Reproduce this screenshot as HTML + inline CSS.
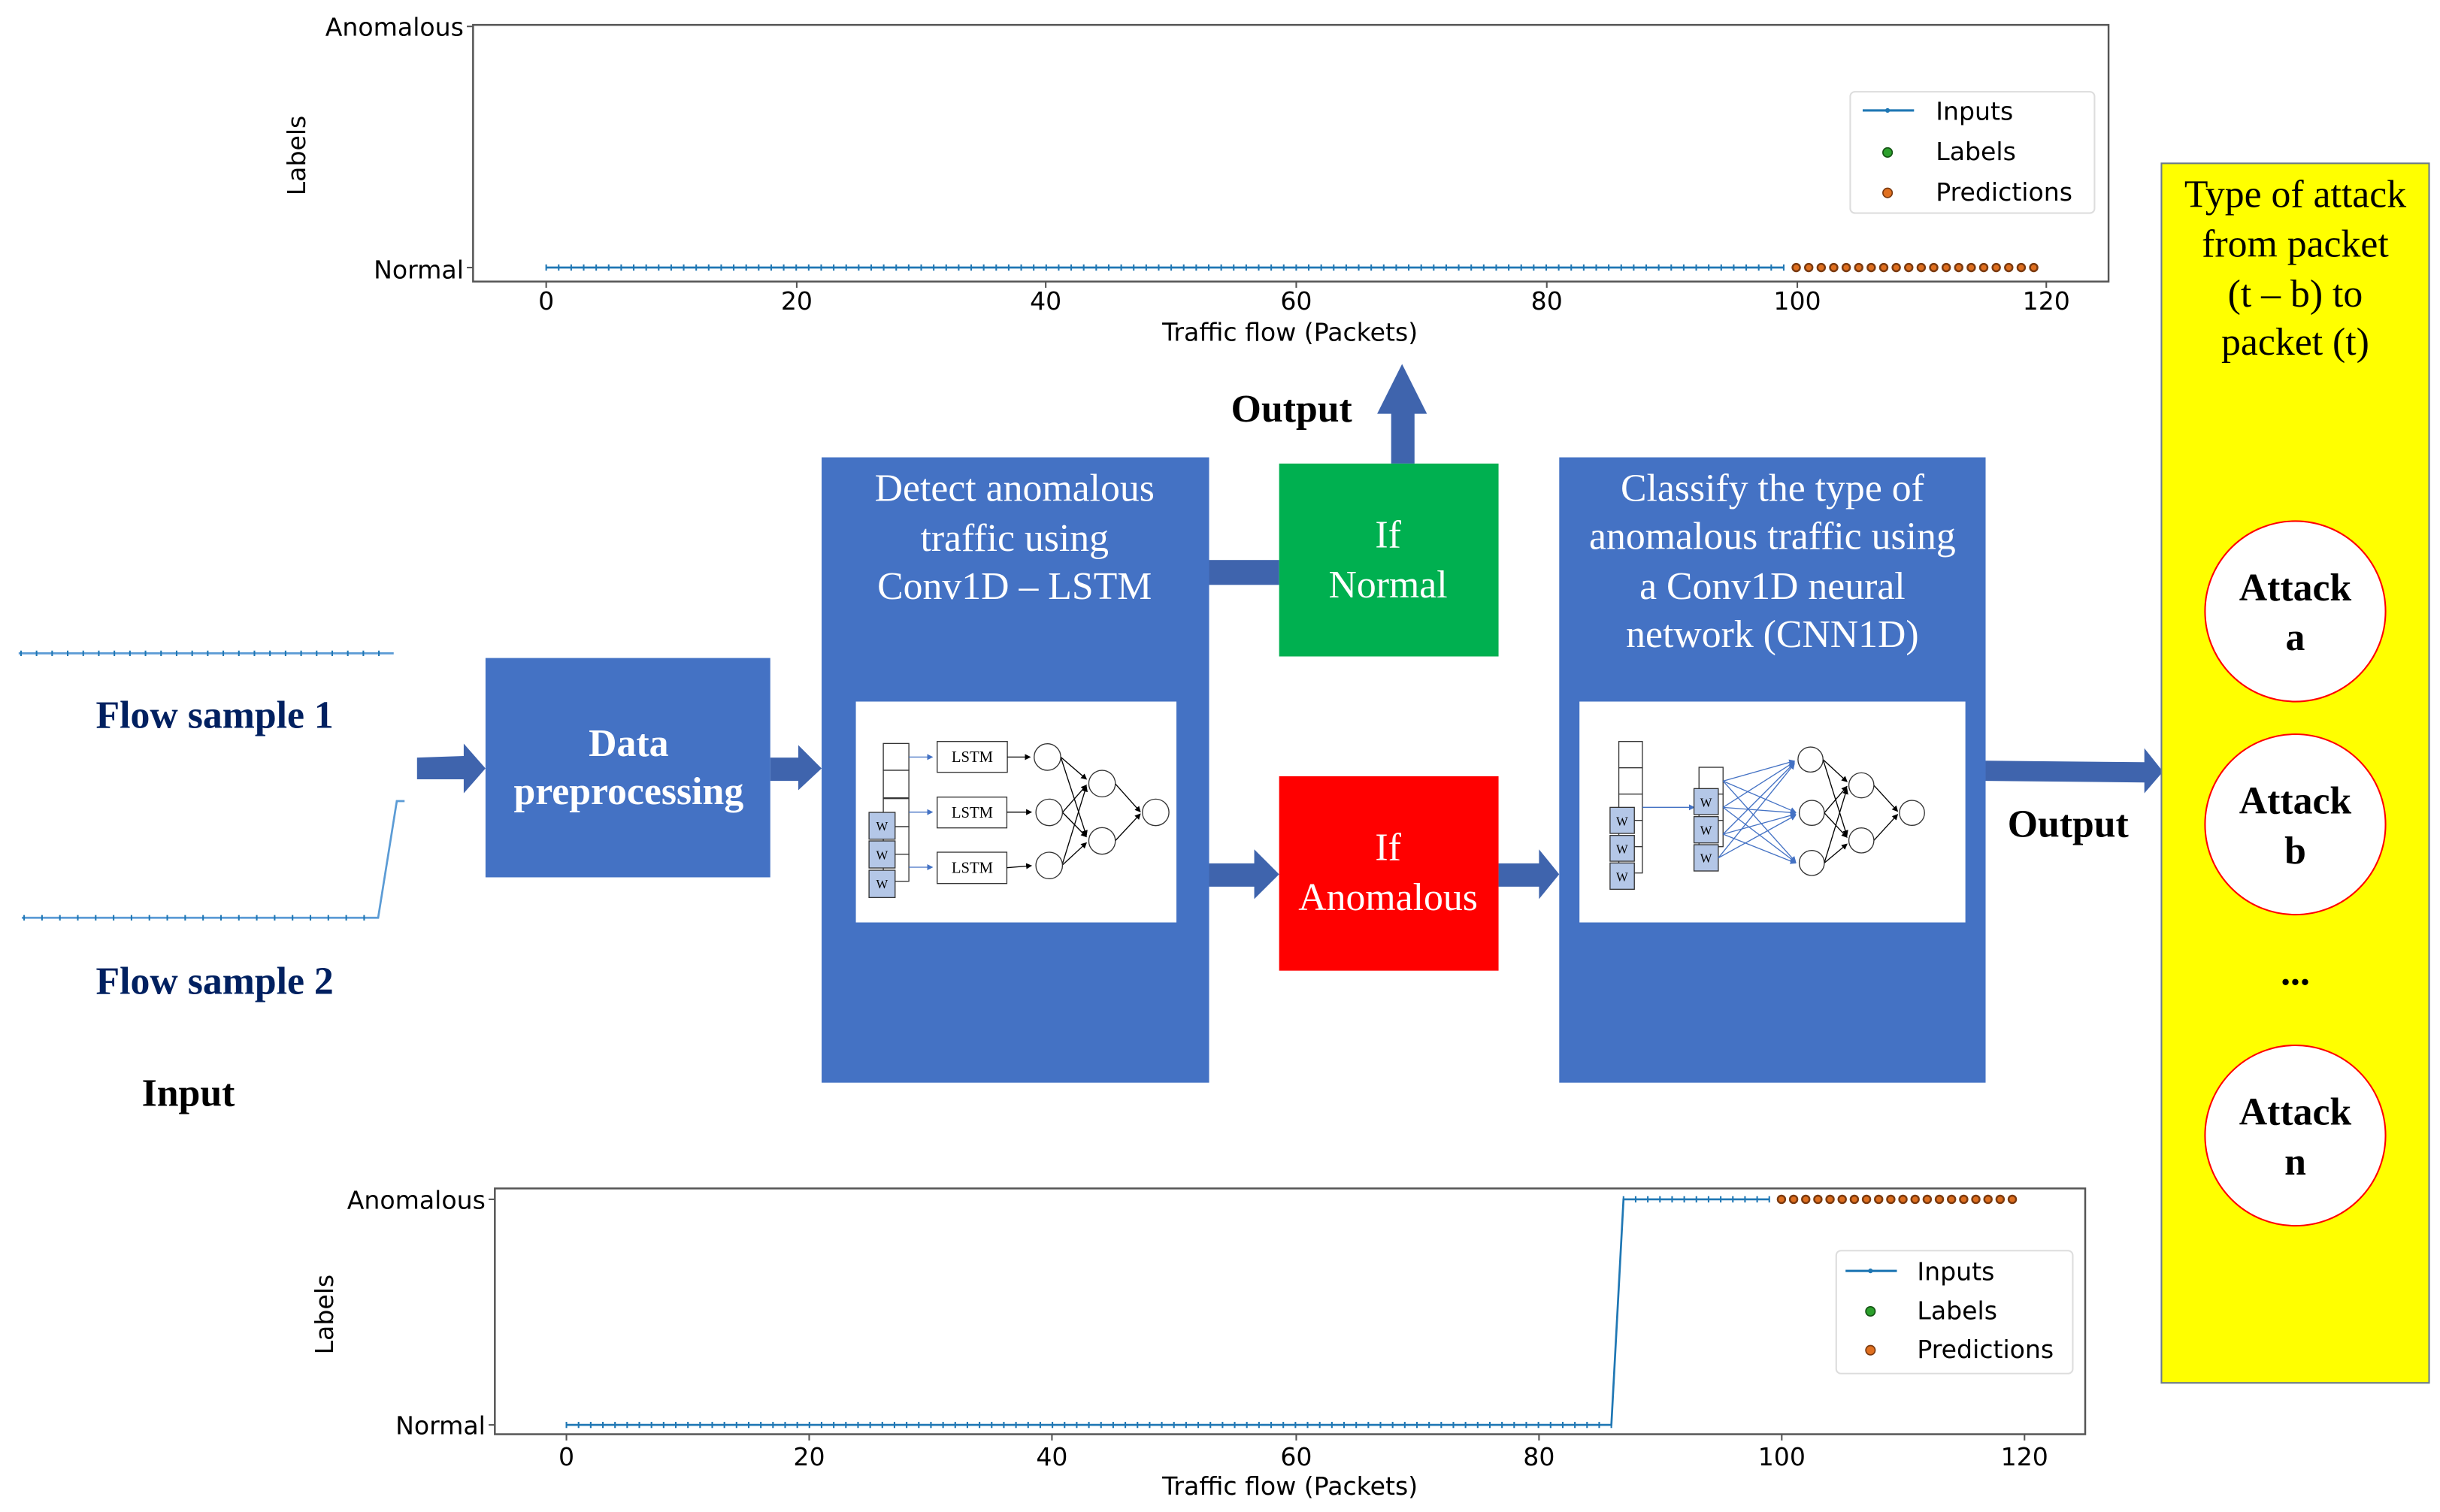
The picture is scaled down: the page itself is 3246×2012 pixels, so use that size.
<!DOCTYPE html>
<html><head><meta charset="utf-8"><style>html,body{margin:0;padding:0;background:#fff}svg{display:block}</style></head>
<body>
<svg width="3246" height="2012" viewBox="0 0 1568 972" preserveAspectRatio="none" xmlns="http://www.w3.org/2000/svg">
<defs>
<marker id="ab" markerWidth="6" markerHeight="6" refX="5" refY="3" orient="auto"><path d="M0,0 L6,3 L0,6 z" fill="#000"/></marker>
<marker id="ablu" markerWidth="6" markerHeight="6" refX="5" refY="3" orient="auto"><path d="M0,0 L6,3 L0,6 z" fill="#4472c4"/></marker>
</defs>
<rect width="1568" height="972" fill="#fff"/>

<!-- TOP CHART -->
<g font-family="'DejaVu Sans',sans-serif" font-size="16" fill="#000">
<rect x="304" y="16" width="1051" height="165" fill="none" stroke="#555" stroke-width="1.2"/>
<text x="298" y="23" text-anchor="end">Anomalous</text>
<text x="298" y="179" text-anchor="end">Normal</text>
<text transform="translate(196,100) rotate(-90)" text-anchor="middle">Labels</text>
<g text-anchor="middle">
<text x="351" y="199">0</text><text x="512" y="199">20</text><text x="672" y="199">40</text><text x="833" y="199">60</text><text x="994" y="199">80</text><text x="1155" y="199">100</text><text x="1315" y="199">120</text>
<text x="829" y="219">Traffic flow (Packets)</text>
</g>
<g stroke="#555" stroke-width="1"><line x1="351" y1="181" x2="351" y2="185"/><line x1="512" y1="181" x2="512" y2="185"/><line x1="672" y1="181" x2="672" y2="185"/><line x1="833" y1="181" x2="833" y2="185"/><line x1="994" y1="181" x2="994" y2="185"/><line x1="1155" y1="181" x2="1155" y2="185"/><line x1="1315" y1="181" x2="1315" y2="185"/><line x1="300" y1="17" x2="304" y2="17"/><line x1="300" y1="172" x2="304" y2="172"/></g>
<line x1="351" y1="172" x2="1146.3" y2="172" stroke="#1f77b4" stroke-width="1.3"/>
<line x1="350.5" y1="172" x2="1147" y2="172" stroke="#1f77b4" stroke-width="4" stroke-dasharray="1 7.033"/>
<line x1="1154.3" y1="172" x2="1307.5" y2="172" stroke="#7a3a10" stroke-width="6" stroke-linecap="round" stroke-dasharray="0 8.033"/>
<line x1="1154.3" y1="172" x2="1307.5" y2="172" stroke="#e07020" stroke-width="3.6" stroke-linecap="round" stroke-dasharray="0 8.033"/>
<rect x="1189" y="59" width="157" height="78" rx="3" fill="#fff" stroke="#ddd"/>
<line x1="1197" y1="71" x2="1230" y2="71" stroke="#1f77b4" stroke-width="1.5"/><circle cx="1213" cy="71" r="1.5" fill="#1f77b4"/>
<circle cx="1213" cy="98" r="3" fill="#2ca02c" stroke="#145214" stroke-width=".8"/>
<circle cx="1213" cy="124" r="3" fill="#e07020" stroke="#7a3a10" stroke-width=".8"/>
<text x="1244" y="77">Inputs</text><text x="1244" y="103">Labels</text><text x="1244" y="129">Predictions</text>
</g>

<!-- BOTTOM CHART -->
<g font-family="'DejaVu Sans',sans-serif" font-size="16" fill="#000">
<rect x="318" y="764" width="1022" height="158" fill="none" stroke="#555" stroke-width="1.2"/>
<text x="312" y="777" text-anchor="end">Anomalous</text>
<text x="312" y="922" text-anchor="end">Normal</text>
<text transform="translate(214,845) rotate(-90)" text-anchor="middle">Labels</text>
<g text-anchor="middle">
<text x="364" y="942">0</text><text x="520" y="942">20</text><text x="676" y="942">40</text><text x="833" y="942">60</text><text x="989" y="942">80</text><text x="1145" y="942">100</text><text x="1301" y="942">120</text>
<text x="829" y="961">Traffic flow (Packets)</text>
</g>
<g stroke="#555" stroke-width="1"><line x1="364" y1="922" x2="364" y2="926"/><line x1="520" y1="922" x2="520" y2="926"/><line x1="676" y1="922" x2="676" y2="926"/><line x1="833" y1="922" x2="833" y2="926"/><line x1="989" y1="922" x2="989" y2="926"/><line x1="1145" y1="922" x2="1145" y2="926"/><line x1="1301" y1="922" x2="1301" y2="926"/><line x1="314" y1="771" x2="318" y2="771"/><line x1="314" y1="916" x2="318" y2="916"/></g>
<polyline points="364,916 1035.5,916 1043.3,771 1137,771" fill="none" stroke="#1f77b4" stroke-width="1.3"/>
<line x1="363.5" y1="916" x2="1036" y2="916" stroke="#1f77b4" stroke-width="4" stroke-dasharray="1 6.808"/>
<line x1="1042.8" y1="771" x2="1138" y2="771" stroke="#1f77b4" stroke-width="4" stroke-dasharray="1 6.808"/>
<line x1="1144.8" y1="771" x2="1293.5" y2="771" stroke="#7a3a10" stroke-width="6" stroke-linecap="round" stroke-dasharray="0 7.808"/>
<line x1="1144.8" y1="771" x2="1293.5" y2="771" stroke="#e07020" stroke-width="3.6" stroke-linecap="round" stroke-dasharray="0 7.808"/>
<rect x="1180" y="804" width="152" height="79" rx="3" fill="#fff" stroke="#ddd"/>
<line x1="1186" y1="817" x2="1219" y2="817" stroke="#1f77b4" stroke-width="1.5"/><circle cx="1202" cy="817" r="1.5" fill="#1f77b4"/>
<circle cx="1202" cy="843" r="3" fill="#2ca02c" stroke="#145214" stroke-width=".8"/>
<circle cx="1202" cy="868" r="3" fill="#e07020" stroke="#7a3a10" stroke-width=".8"/>
<text x="1232" y="823">Inputs</text><text x="1232" y="848">Labels</text><text x="1232" y="873">Predictions</text>
</g>

<!-- flow sample lines -->
<line x1="12" y1="420" x2="253" y2="420" stroke="#5b9bd5" stroke-width="1.3"/>
<line x1="13" y1="420" x2="253" y2="420" stroke="#1f77b4" stroke-width="3.5" stroke-dasharray="1 9"/>
<polyline points="14,590 243,590 255,515 260,515" fill="none" stroke="#5b9bd5" stroke-width="1.3"/>
<line x1="15" y1="590" x2="243" y2="590" stroke="#1f77b4" stroke-width="3.5" stroke-dasharray="1 10.5"/>

<g font-family="'Liberation Serif',serif" font-weight="bold" font-size="25" text-anchor="middle">
<text x="138" y="468" fill="#002060">Flow sample 1</text>
<text x="138" y="639" fill="#002060">Flow sample 2</text>
<text x="121" y="711" fill="#000">Input</text>
<text x="830" y="271" fill="#000">Output</text>
<text x="1329" y="538" fill="#000">Output</text>
</g>

<!-- block arrows -->
<g fill="#3f64ad">
<path d="M268,487 L298,486 L298,478 L312,494 L298,510 L298,501 L268,501 z"/>
<path d="M495,487 L513,487 L513,479 L528,494 L513,508 L513,502 L495,502 z"/>
<path d="M777,555 L806,555 L806,546 L822,562 L806,578 L806,570 L777,570 z"/>
<path d="M963,555 L989,555 L989,546 L1002,562 L989,578 L989,570 L963,570 z"/>
<path d="M1276,489 L1378,490 L1378,481 L1390,496 L1378,510 L1378,503 L1276,502 z"/>
<rect x="777" y="360" width="45" height="16"/>
<path d="M894,298 L894,266 L885,266 L901,234 L917,266 L909,266 L909,298 z"/>
</g>

<!-- boxes -->
<rect x="312" y="423" width="183" height="141" fill="#4472c4"/>
<rect x="528" y="294" width="249" height="402" fill="#4472c4"/>
<rect x="1002" y="294" width="274" height="402" fill="#4472c4"/>
<rect x="822" y="298" width="141" height="124" fill="#00b050"/>
<rect x="822" y="499" width="141" height="125" fill="#ff0000"/>
<rect x="1389" y="105" width="172" height="784" fill="#ffff00" stroke="#6a7a8a" stroke-width="1"/>

<g font-family="'Liberation Serif',serif" font-size="25" fill="#fff" text-anchor="middle">
<text x="404" y="486" font-weight="bold">Data</text>
<text x="404" y="517" font-weight="bold">preprocessing</text>
<text x="652" y="322">Detect anomalous</text>
<text x="652" y="354">traffic using</text>
<text x="652" y="385">Conv1D – LSTM</text>
<text x="1139" y="322">Classify the type of</text>
<text x="1139" y="353">anomalous traffic using</text>
<text x="1139" y="385">a Conv1D neural</text>
<text x="1139" y="416">network (CNN1D)</text>
<text x="892" y="352">If</text>
<text x="892" y="384">Normal</text>
<text x="892" y="553">If</text>
<text x="892" y="585">Anomalous</text>
</g>
<g font-family="'Liberation Serif',serif" font-size="25" fill="#000" text-anchor="middle">
<text x="1475" y="133">Type of attack</text>
<text x="1475" y="165">from packet</text>
<text x="1475" y="197">(t – b) to</text>
<text x="1475" y="228">packet (t)</text>
</g>
<g fill="#fff" stroke="#ff0000" stroke-width="1">
<ellipse cx="1475" cy="393" rx="58" ry="58"/>
<ellipse cx="1475" cy="530" rx="58" ry="58"/>
<ellipse cx="1475" cy="730" rx="58" ry="58"/>
</g>
<g font-family="'Liberation Serif',serif" font-size="25" font-weight="bold" fill="#000" text-anchor="middle">
<text x="1475" y="386">Attack</text><text x="1475" y="418">a</text>
<text x="1475" y="523">Attack</text><text x="1475" y="555">b</text>
<text x="1475" y="633">...</text>
<text x="1475" y="723">Attack</text><text x="1475" y="755">n</text>
</g>

<!-- inner panels -->
<rect x="550" y="451" width="206" height="142" fill="#fff"/>
<rect x="1015" y="451" width="248" height="142" fill="#fff"/>

<!-- LSTM diagram -->
<g transform="translate(545.9,449.3) scale(0.16102)" stroke="#333" stroke-width="4" font-family="'Liberation Serif',serif">
<g fill="#fff">
<rect x="135" y="178" width="102" height="107"/><rect x="135" y="285" width="102" height="110"/><rect x="135" y="398" width="102" height="112"/><rect x="135" y="510" width="102" height="110"/><rect x="135" y="620" width="102" height="108"/>
</g>
<g fill="#b4c7e7"><rect x="78" y="453" width="104" height="107"/><rect x="78" y="567" width="104" height="108"/><rect x="78" y="684" width="104" height="109"/></g>
<g font-size="50" fill="#000" stroke="none" text-anchor="middle"><text x="130" y="525">W</text><text x="130" y="640">W</text><text x="130" y="756">W</text></g>
<g stroke="#4472c4" stroke-width="4" marker-end="url(#ablu)"><line x1="237" y1="232" x2="330" y2="232"/><line x1="237" y1="452" x2="330" y2="452"/><line x1="237" y1="672" x2="330" y2="672"/></g>
<g fill="#fff"><rect x="350" y="170" width="280" height="123"/><rect x="350" y="392" width="278" height="123"/><rect x="350" y="612" width="278" height="125"/></g>
<g font-size="62" fill="#000" stroke="none" text-anchor="middle"><text x="490" y="252">LSTM</text><text x="490" y="474">LSTM</text><text x="490" y="694">LSTM</text></g>
<g stroke="#000" marker-end="url(#ab)"><line x1="630" y1="232" x2="720" y2="232"/><line x1="628" y1="452" x2="725" y2="452"/><line x1="628" y1="674" x2="725" y2="666"/>
<line x1="843" y1="232" x2="945" y2="320"/><line x1="843" y1="232" x2="945" y2="545"/><line x1="850" y1="453" x2="945" y2="345"/><line x1="850" y1="453" x2="945" y2="550"/><line x1="848" y1="665" x2="945" y2="350"/><line x1="848" y1="665" x2="945" y2="575"/>
<line x1="1060" y1="338" x2="1160" y2="450"/><line x1="1060" y1="567" x2="1160" y2="460"/></g>
<g fill="#fff"><circle cx="790" cy="232" r="53"/><circle cx="797" cy="453" r="53"/><circle cx="797" cy="665" r="53"/><circle cx="1008" cy="338" r="53"/><circle cx="1008" cy="567" r="53"/><circle cx="1222" cy="453" r="53"/></g>
</g>

<!-- CNN diagram -->
<g transform="translate(1009.7,449.3) scale(0.16102)" stroke="#333" stroke-width="4" font-family="'Liberation Serif',serif">
<g fill="#fff"><rect x="190" y="170" width="94" height="105"/><rect x="190" y="275" width="94" height="105"/><rect x="190" y="380" width="94" height="105"/><rect x="190" y="485" width="94" height="105"/><rect x="190" y="590" width="94" height="105"/></g>
<g fill="#b4c7e7"><rect x="155" y="433" width="97" height="104"/><rect x="155" y="545" width="97" height="103"/><rect x="155" y="655" width="97" height="105"/></g>
<g font-size="50" fill="#000" stroke="none" text-anchor="middle"><text x="203" y="505">W</text><text x="203" y="616">W</text><text x="203" y="727">W</text></g>
<line x1="284" y1="433" x2="490" y2="433" stroke="#4472c4" marker-end="url(#ablu)"/>
<g fill="#fff"><rect x="510" y="273" width="96" height="107"/><rect x="510" y="380" width="96" height="105"/><rect x="510" y="485" width="96" height="105"/></g>
<g fill="#b4c7e7"><rect x="490" y="358" width="97" height="104"/><rect x="490" y="470" width="97" height="105"/><rect x="490" y="582" width="97" height="105"/></g>
<g font-size="50" fill="#000" stroke="none" text-anchor="middle"><text x="538" y="430">W</text><text x="538" y="541">W</text><text x="538" y="653">W</text></g>
<g stroke="#4472c4" stroke-width="4" marker-end="url(#ablu)">
<line x1="606" y1="328" x2="890" y2="248"/><line x1="606" y1="328" x2="895" y2="452"/><line x1="606" y1="328" x2="895" y2="650"/>
<line x1="606" y1="433" x2="890" y2="252"/><line x1="606" y1="433" x2="895" y2="455"/><line x1="606" y1="433" x2="895" y2="652"/>
<line x1="606" y1="540" x2="890" y2="256"/><line x1="606" y1="540" x2="895" y2="460"/><line x1="606" y1="540" x2="895" y2="655"/>
<line x1="587" y1="635" x2="890" y2="260"/><line x1="587" y1="635" x2="895" y2="465"/>
</g>
<g stroke="#000" marker-end="url(#ab)">
<line x1="1005" y1="242" x2="1100" y2="330"/><line x1="1005" y1="242" x2="1100" y2="545"/><line x1="1010" y1="455" x2="1100" y2="350"/><line x1="1010" y1="455" x2="1100" y2="552"/><line x1="1010" y1="655" x2="1100" y2="360"/><line x1="1010" y1="655" x2="1100" y2="580"/>
<line x1="1208" y1="345" x2="1302" y2="448"/><line x1="1208" y1="565" x2="1302" y2="462"/>
</g>
<g fill="#fff"><circle cx="955" cy="242" r="50"/><circle cx="960" cy="455" r="50"/><circle cx="960" cy="655" r="50"/><circle cx="1158" cy="345" r="50"/><circle cx="1158" cy="565" r="50"/><circle cx="1360" cy="455" r="50"/></g>
</g>
</svg>
</body></html>
